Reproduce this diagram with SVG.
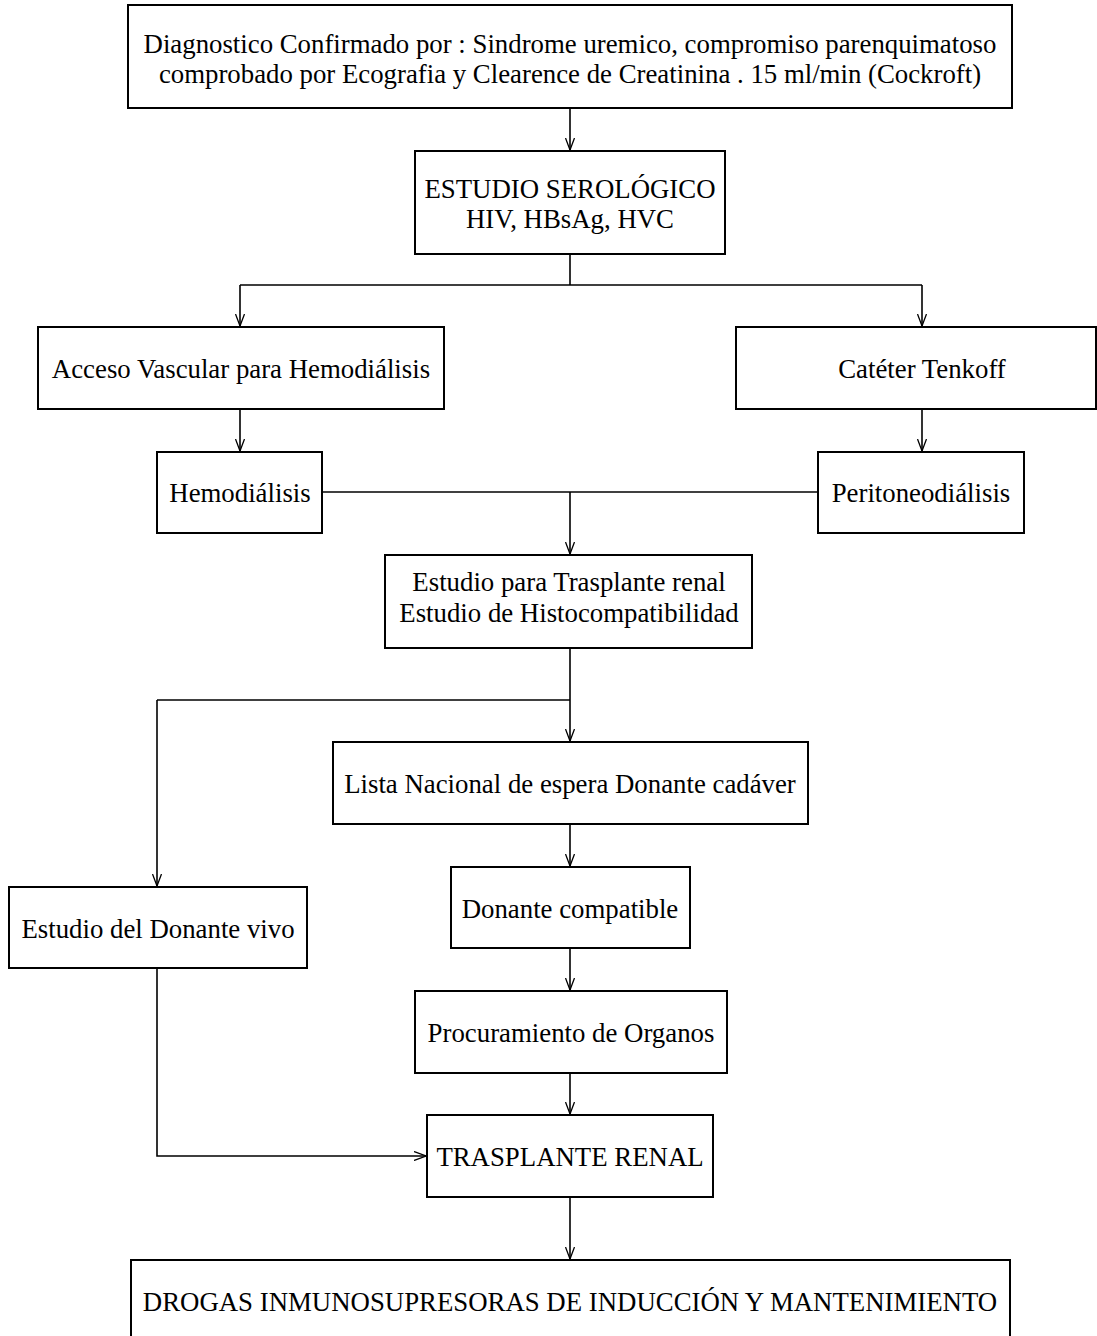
<svg xmlns="http://www.w3.org/2000/svg" width="1097" height="1336" viewBox="0 0 1097 1336">
<style>
.box{fill:#fff;stroke:#000;stroke-width:2}
.t{font-family:"Liberation Serif","Times New Roman",serif;font-size:26.8px;fill:#000;text-anchor:middle}
.c{fill:none;stroke:#000;stroke-width:1.6}
</style>
<defs>
<marker id="ah" viewBox="0 0 12 10" refX="12" refY="5" markerWidth="12" markerHeight="10" markerUnits="userSpaceOnUse" orient="auto">
<path d="M0,0.5 L12,5 L0,9.5" fill="none" stroke="#000" stroke-width="1.3"/>
</marker>
</defs>
<rect width="1097" height="1336" fill="#fff"/>
<g id="connectors">
<line class="c" x1="570" y1="108" x2="570" y2="150" marker-end="url(#ah)"/>
<path class="c" d="M570,254 V285 M240,285 H922"/>
<line class="c" x1="240" y1="285" x2="240" y2="326" marker-end="url(#ah)"/>
<line class="c" x1="922" y1="285" x2="922" y2="326" marker-end="url(#ah)"/>
<line class="c" x1="240" y1="409" x2="240" y2="451" marker-end="url(#ah)"/>
<line class="c" x1="922" y1="409" x2="922" y2="451" marker-end="url(#ah)"/>
<path class="c" d="M322,492 H818"/>
<line class="c" x1="570" y1="492" x2="570" y2="554" marker-end="url(#ah)"/>
<line class="c" x1="570" y1="648" x2="570" y2="741" marker-end="url(#ah)"/>
<path class="c" d="M570,700 H157"/>
<line class="c" x1="157" y1="700" x2="157" y2="886" marker-end="url(#ah)"/>
<line class="c" x1="570" y1="824" x2="570" y2="866" marker-end="url(#ah)"/>
<line class="c" x1="570" y1="948" x2="570" y2="990" marker-end="url(#ah)"/>
<line class="c" x1="570" y1="1073" x2="570" y2="1114" marker-end="url(#ah)"/>
<path class="c" d="M157,968 V1156 H426" marker-end="url(#ah)"/>
<line class="c" x1="570" y1="1197" x2="570" y2="1259" marker-end="url(#ah)"/>
</g>
<g id="n1"><rect class="box" x="128" y="5" width="884" height="103"/>
<text class="t" x="570" y="53">Diagnostico Confirmado por : Sindrome uremico, compromiso parenquimatoso</text>
<text class="t" x="570" y="83">comprobado por Ecografia y Clearence de Creatinina . 15 ml/min (Cockroft)</text></g>
<g id="n2"><rect class="box" x="415" y="151" width="310" height="103"/>
<text class="t" x="570" y="198">ESTUDIO SEROLÓGICO</text>
<text class="t" x="570" y="228">HIV, HBsAg, HVC</text></g>
<g id="n3"><rect class="box" x="38" y="327" width="406" height="82"/>
<text class="t" x="241" y="378">Acceso Vascular para Hemodiálisis</text></g>
<g id="n4"><rect class="box" x="736" y="327" width="360" height="82"/>
<text class="t" x="922" y="378">Catéter Tenkoff</text></g>
<g id="n5"><rect class="box" x="157" y="452" width="165" height="81"/>
<text class="t" x="240" y="502">Hemodiálisis</text></g>
<g id="n6"><rect class="box" x="818" y="452" width="206" height="81"/>
<text class="t" x="921" y="502">Peritoneodiálisis</text></g>
<g id="n7"><rect class="box" x="385" y="555" width="367" height="93"/>
<text class="t" x="569" y="591">Estudio para Trasplante renal</text>
<text class="t" x="569" y="622">Estudio de Histocompatibilidad</text></g>
<g id="n8"><rect class="box" x="333" y="742" width="475" height="82"/>
<text class="t" x="570" y="793">Lista Nacional de espera Donante cadáver</text></g>
<g id="n9"><rect class="box" x="9" y="887" width="298" height="81"/>
<text class="t" x="158" y="938">Estudio del Donante vivo</text></g>
<g id="n10"><rect class="box" x="451" y="867" width="239" height="81"/>
<text class="t" x="570" y="918">Donante compatible</text></g>
<g id="n11"><rect class="box" x="415" y="991" width="312" height="82"/>
<text class="t" x="571" y="1042">Procuramiento de Organos</text></g>
<g id="n12"><rect class="box" x="427" y="1115" width="286" height="82"/>
<text class="t" x="570" y="1166">TRASPLANTE RENAL</text></g>
<g id="n13"><rect class="box" x="131" y="1260" width="879" height="100"/>
<text class="t" x="570" y="1311">DROGAS INMUNOSUPRESORAS DE INDUCCIÓN Y MANTENIMIENTO</text></g>
</svg>
